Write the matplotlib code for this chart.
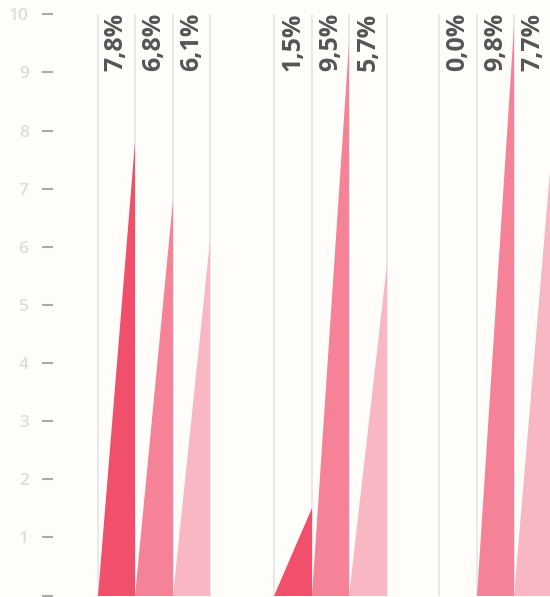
import matplotlib.pyplot as plt

# data
groups = ["A", "B", "C"]
series = ["s1", "s2", "s3"]
values = [
    [7.8, 6.8, 6.1],
    [1.5, 9.5, 5.7],
    [0.0, 9.8, 7.7],
]
labels = [["7,8%", "6,8%", "6,1%"],
          ["1,5%", "9,5%", "5,7%"],
          ["0,0%", "9,8%", "7,7%"]]
yticks = [0, 1, 2, 3, 4, 5, 6, 7, 8, 9, 10]

# layout (x in pixel units of the figure)
group_start = [97.5, 274, 439]
col_w = 37.6
colors = ["#f0506b", "#f58297", "#f9b6c3"]
bg = "#fffdf9"

plt.rcParams["font.family"] = ["Open Sans", "DejaVu Sans"]

fig = plt.figure(figsize=(5.5, 5.97), dpi=100, facecolor=bg)
H = 597
ax = fig.add_axes([0, 1.5 / H, 1, (595.5 - 14.3) / H])
ax.set_facecolor(bg)
ax.set_xlim(0, 550)
ax.set_ylim(0, 10)

for gi, g in enumerate(groups):
    x0 = group_start[gi]
    for si, s in enumerate(series):
        left = x0 + si * col_w
        right = left + col_w
        v = values[gi][si]
        # grid line on the left edge of each column
        ax.vlines(left, 0, 10, color="#e6e6e6", lw=1.2, zorder=1)
        ax.fill([left, right, right], [0, 0, v], color=colors[si], lw=0, zorder=2)
        ax.text((left + right) / 2, 10.03, labels[gi][si], rotation=90,
                ha="center", va="top", fontsize=18, fontweight="bold",
                color="#555555", zorder=3, clip_on=False)
    ax.vlines(x0 + 3 * col_w, 0, 10, color="#e6e6e6", lw=1.2, zorder=1)

for sp in ["top", "right", "bottom"]:
    ax.spines[sp].set_visible(False)
ax.spines["left"].set_position(("data", 53))
ax.spines["left"].set_visible(False)
ax.set_xticks([])
ax.set_yticks(yticks)
# the 0 label falls below the picture's bottom edge in the reference
ax.set_yticklabels(["" if t == 0 else str(t) for t in yticks])
ax.tick_params(axis="y", direction="out", length=8, width=1.5, color="#aaaaaa",
               pad=9.5, labelsize=12.5, labelcolor="#dddddd")
for lab in ax.get_yticklabels():
    lab.set_fontweight("semibold")
for t in ax.yaxis.get_major_ticks():
    t.tick1line.set_clip_on(False)

fig.savefig("out.png", dpi=100, facecolor=bg)
